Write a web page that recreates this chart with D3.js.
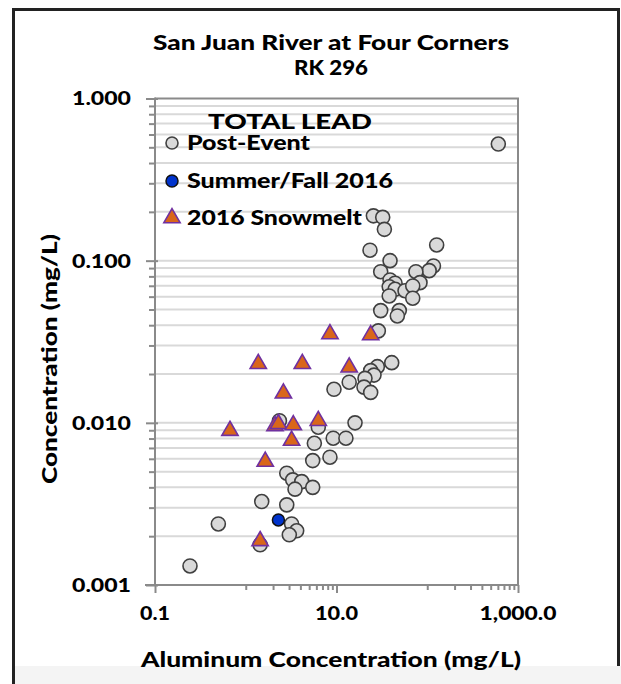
<!DOCTYPE html>
<html>
<head>
<meta charset="utf-8">
<script src="https://cdn.jsdelivr.net/npm/d3@7"></script>
<style>
html,body{margin:0;padding:0;background:#fff;}
svg{display:block;font-family:Lato,"Open Sans",sans-serif;font-weight:900;}
</style>
</head>
<body>
<script>
// ---- data (Aluminum mg/L, Lead mg/L) ----
const postEventAl = [25.5,32.3,33.7,23.4,127,38.9,30.7,117,105,75,38.9,44.2,83.2,38.1,44.2,56.9,69.2,38.1,69.2,30.7,49.2,46.8,28.9,607,
  40.6,28.2,23.8,25.9,20.6,13.8,20.1,23.8,9.38,16.0,6.3,2.35,9.2,12.7,5.7,5.47,8.47,2.83,3.29,4.14,3.49,5.47,1.50,2.83,0.499,3.2,3.64,3.02,1.44,0.243];
const postEventPb = [0.189,0.185,0.156,0.116,0.125,0.100,0.0855,0.0928,0.0868,0.0855,0.076,0.0726,0.0732,0.069,0.0666,0.0653,0.0698,0.0606,0.0587,0.0492,0.0492,0.0456,0.0369,0.524,
  0.0235,0.0222,0.0210,0.0197,0.0188,0.0178,0.0166,0.0154,0.0161,0.0100,0.0094,0.0103,0.00804,0.00804,0.00748,0.00585,0.00614,0.00489,0.00445,0.00434,0.0039,0.0040,0.00327,0.00312,0.00238,0.00238,0.00216,0.00204,0.00177,0.00131];
const summerAl = [2.29];
const summerPb = [0.00252];
const snowmeltAl = [1.374,4.2,13.8,2.6,0.67,2.1,2.29,3.34,6.3,3.2,1.64,1.44,8.47,23.8];
const snowmeltPb = [0.0231,0.0231,0.0220,0.0152,0.00895,0.00957,0.00985,0.0097,0.0103,0.00777,0.00577,0.00187,0.0353,0.0348];
const seriesNames = ["Post-Event","Summer/Fall 2016","2016 Snowmelt"];
const xTickValues = [0.1,10,1000];
const xTickLabels = ["0.1","10.0","1,000.0"];
const yTickValues = [0.001,0.01,0.1,1];
const yTickLabels = ["0.001","0.010","0.100","1.000"];
const titleLines = ["San Juan River at Four Corners","RK 296"];
const legendTitle = "TOTAL LEAD";
const xTitle = "Aluminum Concentration (mg/L)";
const yTitle = "Concentration (mg/L)";

const W = 621, H = 684;
const P = {left:155, right:518, top:98.5, bottom:585};
const svg = d3.select("body").append("svg").attr("width",W).attr("height",H);

// fit a text element to a target width
function fit(sel, w){ sel.attr("textLength",w).attr("lengthAdjust","spacingAndGlyphs"); return sel; }

// frame
svg.append("rect").attr("x",0).attr("y",0).attr("width",W).attr("height",H).attr("fill","#fff");
svg.append("rect").attr("x",13.5).attr("y",9.5).attr("width",605).attr("height",740)
  .attr("fill","none").attr("stroke","#222").attr("stroke-width",3);
svg.append("rect").attr("x",15).attr("y",666).attr("width",W-15).attr("height",H-666).attr("fill","#f4f4f4");

const x = d3.scaleLog().domain([0.1,1000]).range([P.left,P.right]);
const y = d3.scaleLog().domain([0.001,1]).range([P.bottom,P.top]);

// minor values
const yMinor = [];
for (let e=-3;e<0;e++) for (let k=1;k<10;k++) yMinor.push(k*Math.pow(10,e));
const xMinor = [];
[1,100].forEach(b=>{for(let k=1;k<10;k++) xMinor.push(k*b);});

// gridlines
const g = svg.append("g");
g.selectAll("line.grid").data(yMinor.filter(v=>v>0.0011)).join("line")
  .attr("x1",P.left).attr("x2",P.right)
  .attr("y1",d=>y(d)).attr("y2",d=>y(d))
  .attr("stroke","#d9d9d9").attr("stroke-width",2);

// plot border (top & right)
const axisColor = "#8a8a8a";
svg.append("line").attr("x1",P.left).attr("x2",P.right+1).attr("y1",P.top).attr("y2",P.top).attr("stroke",axisColor).attr("stroke-width",2);
svg.append("line").attr("x1",P.right).attr("x2",P.right).attr("y1",P.top).attr("y2",P.bottom).attr("stroke",axisColor).attr("stroke-width",2);

// y axis
const isMajorY = d => yTickValues.some(v=>Math.abs(Math.log10(v)-Math.log10(d))<1e-6);
const ya = svg.append("g").attr("transform",`translate(${P.left},0)`)
  .call(d3.axisLeft(y).tickValues(yMinor.concat([1])).tickSize(0).tickFormat(""));
ya.select(".domain").remove();
ya.selectAll(".tick line").remove();
ya.selectAll(".tick").append("line")
  .attr("x1",d=>isMajorY(d)? -9 : -6)
  .attr("x2",d=>isMajorY(d)? 3 : 0)
  .attr("stroke",axisColor).attr("stroke-width",2);
svg.append("line").attr("x1",P.left).attr("x2",P.left).attr("y1",P.top-1).attr("y2",P.bottom+1).attr("stroke",axisColor).attr("stroke-width",2);

// x axis
const xa = svg.append("g").attr("transform",`translate(0,${P.bottom})`)
  .call(d3.axisBottom(x).tickValues(xMinor.concat(xTickValues)).tickSize(0).tickFormat(""));
xa.select(".domain").remove();
xa.selectAll(".tick line").remove();
xa.selectAll(".tick").append("line")
  .attr("y1",0)
  .attr("y2",d=>xTickValues.includes(d)? 8 : 5)
  .attr("stroke",axisColor).attr("stroke-width",2);
svg.append("line").attr("x1",P.left-10).attr("x2",P.right+1).attr("y1",P.bottom).attr("y2",P.bottom).attr("stroke",axisColor).attr("stroke-width",2);

// tick labels
const ylab = svg.selectAll("text.yl").data(yTickValues).join("text")
  .attr("x",131).attr("y",d=>y(d)).attr("dy","0.36em")
  .attr("text-anchor","end").attr("font-size",19).attr("fill","#000")
  .text((d,i)=>yTickLabels[i]);
fit(ylab,59);
const xlabW = [30,43,77];
svg.selectAll("text.xl").data(xTickValues).join("text")
  .attr("x",d=>x(d)).attr("y",620)
  .attr("text-anchor","middle").attr("font-size",19).attr("fill","#000")
  .attr("textLength",(d,i)=>xlabW[i]).attr("lengthAdjust","spacingAndGlyphs")
  .text((d,i)=>xTickLabels[i]);

// titles
const titleW = [356,74];
svg.selectAll("text.t").data(titleLines).join("text")
  .attr("x",331).attr("y",(d,i)=>50+i*25).attr("text-anchor","middle")
  .attr("font-size",20).attr("fill","#000")
  .attr("textLength",(d,i)=>titleW[i]).attr("lengthAdjust","spacingAndGlyphs")
  .text(d=>d);
fit(svg.append("text").attr("x",331).attr("y",667).attr("text-anchor","middle")
  .attr("font-size",20).attr("fill","#000").text(xTitle),380);
fit(svg.append("text").attr("transform",`translate(57,359) rotate(-90)`)
  .attr("text-anchor","middle").attr("font-size",20).attr("fill","#000").text(yTitle),250);

// markers
const circFill="#d9d9d9", circStroke="#404040";
const triFill="#d9661a", triStroke="#7030a0";
const pe = postEventAl.map((v,i)=>({a:v,p:postEventPb[i]}));
svg.append("g").selectAll("circle").data(pe).join("circle")
  .attr("cx",d=>x(d.a)).attr("cy",d=>y(d.p)).attr("r",7)
  .attr("fill",circFill).attr("stroke",circStroke).attr("stroke-width",1.6);
const sf = summerAl.map((v,i)=>({a:v,p:summerPb[i]}));
svg.append("g").selectAll("circle").data(sf).join("circle")
  .attr("cx",d=>x(d.a)).attr("cy",d=>y(d.p)).attr("r",6)
  .attr("fill","#0033cc").attr("stroke","#111").attr("stroke-width",1.5);
const sm = snowmeltAl.map((v,i)=>({a:v,p:snowmeltPb[i]}));
const tri = d3.symbol().type(d3.symbolTriangle).size(115);
svg.append("g").selectAll("path").data(sm).join("path")
  .attr("transform",d=>`translate(${x(d.a)},${y(d.p)})`).attr("d",tri)
  .attr("fill",triFill).attr("stroke",triStroke).attr("stroke-width",1.6);

// legend
const lg = svg.append("g");
fit(lg.append("text").attr("x",290).attr("y",129).attr("text-anchor","middle")
  .attr("font-size",21).attr("fill","#000").text(legendTitle),164);
const ly = [143,181,218];
const lw = [123,206,175];
lg.append("circle").attr("cx",172).attr("cy",ly[0]).attr("r",6).attr("fill",circFill).attr("stroke",circStroke).attr("stroke-width",1.6);
lg.append("circle").attr("cx",172).attr("cy",ly[1]).attr("r",6).attr("fill","#0033cc").attr("stroke","#111").attr("stroke-width",1.5);
lg.append("path").attr("transform",`translate(172,${ly[2]})`).attr("d",tri).attr("fill",triFill).attr("stroke",triStroke).attr("stroke-width",1.6);
lg.selectAll("text.li").data(seriesNames).join("text")
  .attr("x",187).attr("y",(d,i)=>ly[i]).attr("dy","0.36em")
  .attr("font-size",20).attr("fill","#000")
  .attr("textLength",(d,i)=>lw[i]).attr("lengthAdjust","spacingAndGlyphs")
  .text(d=>d);
</script>
</body>
</html>
